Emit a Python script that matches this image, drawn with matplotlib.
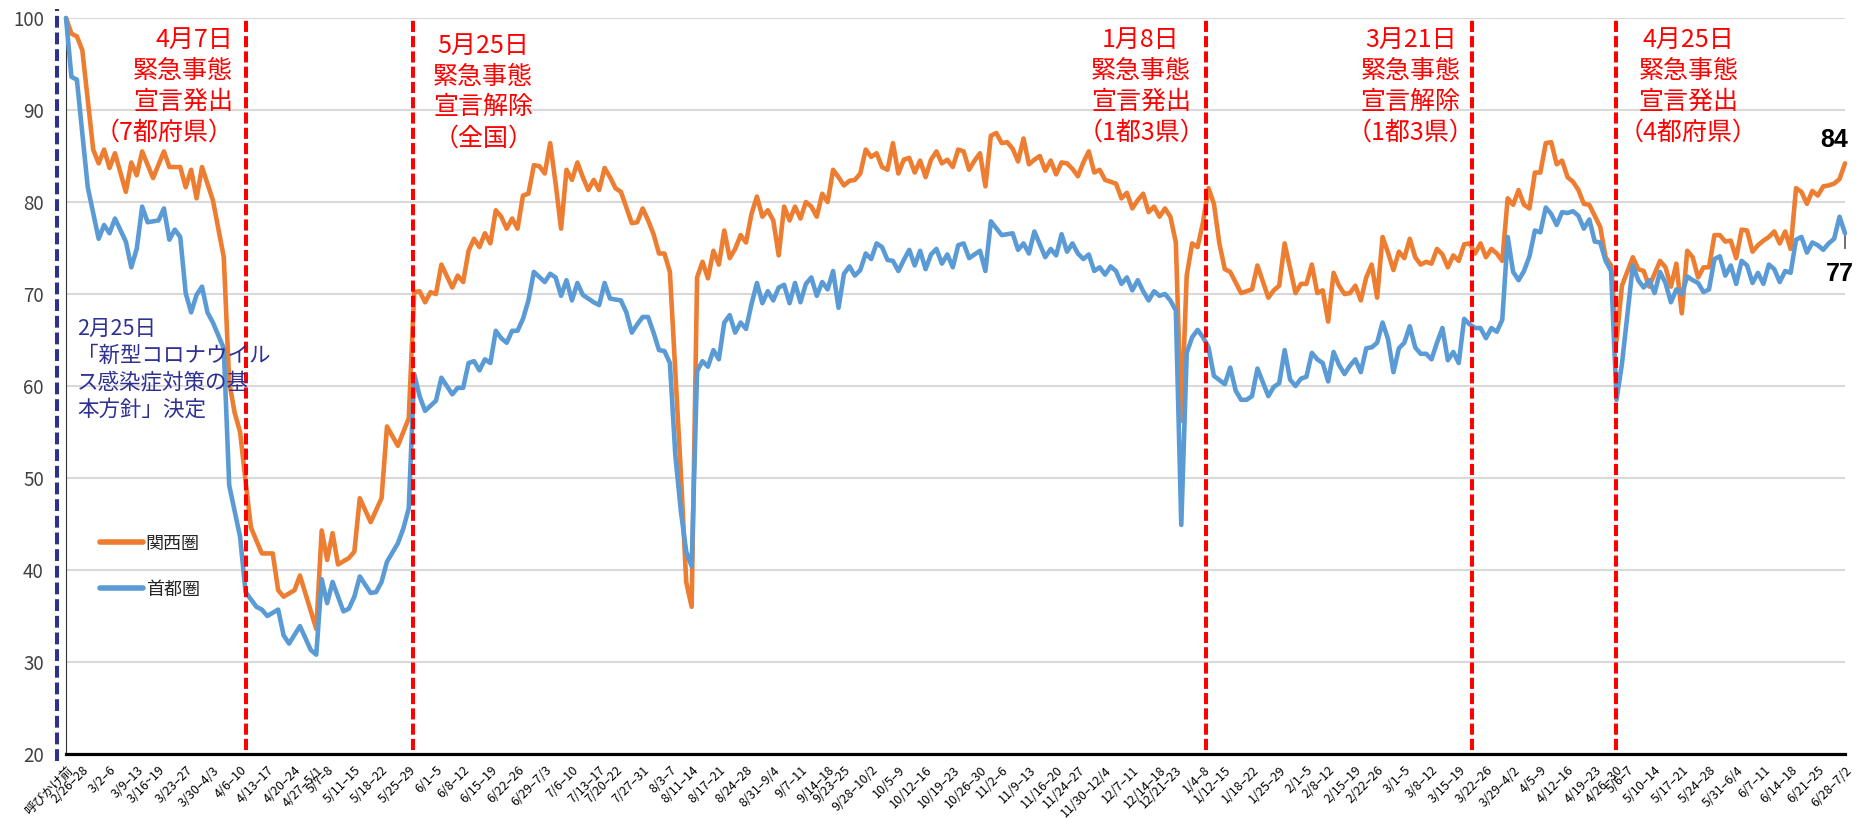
# Weekly mobility index: Kansai vs Tokyo area (pre-appeal = 100)
import matplotlib
matplotlib.use('Agg')
import matplotlib.pyplot as plt
import numpy as np

plt.rcParams['font.family'] = ['Noto Sans CJK JP', 'DejaVu Sans']
plt.rcParams['lines.scale_dashes'] = False

# x axis: one category per weekday, labelled once per week (label sits on last day of the week)
week_labels = ['呼びかけ前', '2/26–28', '3/2–6', '3/9–13', '3/16~19', '3/23–27', '3/30–4/3', '4/6–10',
               '4/13–17', '4/20–24', '4/27–5/1', '5/7–8', '5/11–15', '5/18–22', '5/25–29', '6/1–5',
               '6/8–12', '6/15–19', '6/22–26', '6/29–7/3', '7/6–10', '7/13–17', '7/20–22', '7/27–31',
               '8/3–7', '8/11–14', '8/17–21', '8/24–28', '8/31–9/4', '9/7–11', '9/14–18', '9/23–25',
               '9/28–10/2', '10/5–9', '10/12–16', '10/19–23', '10/26–30', '11/2–6', '11/9–13',
               '11/16–20', '11/24–27', '11/30–12/4', '12/7–11', '12/14–18', '12/21–23', '1/4–8',
               '1/12–15', '1/18–22', '1/25–29', '2/1–5', '2/8–12', '2/15–19', '2/22–26', '3/1–5',
               '3/8–12', '3/15–19', '3/22–26', '3/29–4/2', '4/5–9', '4/12–16', '4/19–23', '4/26–30',
               '5/6–7', '5/10–14', '5/17–21', '5/24–28', '5/31–6/4', '6/7–11', '6/14–18', '6/21–25',
               '6/28–7/2']
week_days = [1, 3, 5, 5, 4, 5, 5, 5, 5, 5,
             4, 2, 5, 5, 5, 5, 5, 5, 5, 5,
             5, 5, 3, 5, 5, 4, 5, 5, 5, 5,
             5, 3, 5, 5, 5, 5, 5, 4, 5, 5,
             4, 5, 5, 5, 3, 5, 4, 5, 5, 5,
             4, 5, 4, 5, 5, 5, 5, 5, 5, 5,
             5, 4, 2, 5, 5, 5, 5, 5, 5, 5, 5]

# 関西圏 (day index, value)
kansai_day = ([0, 1, 2, 3, 4, 5, 6, 7, 8, 9,
               11, 12, 13, 14, 16, 18, 19, 21, 22, 23, 24, 25, 27, 29, 30, 31, 32, 33, 34, 36,
               38, 39, 40, 42, 43, 46, 47, 48, 49, 50, 52, 53, 54, 56, 58, 59, 61, 63]
              + list(range(64, 70)) + list(range(71, 103)) + list(range(104, 112))
              + list(range(113, 215)) + [216, 218, 219] + list(range(221, 225))
              + list(range(226, 287)) + list(range(288, 328)))
kansai_val = [100, 98.3, 98.0, 96.5, 91.1, 85.7, 84.2, 85.7, 83.7, 85.3,
              81.1, 84.3, 82.9, 85.5, 82.6, 85.5, 83.8, 83.8, 81.6, 83.5,
              80.4, 83.8, 80.2, 74.0, 60.4, 57.1, 55.0, 49.7, 44.6, 41.8,
              41.8, 37.8, 37.1, 37.8, 39.4, 33.6, 44.3, 41.1, 44.0, 40.6,
              41.3, 42.0, 47.8, 45.2, 47.8, 55.6, 53.5, 56.5, 70.2, 70.3,
              69.1, 70.2, 70.0, 73.2, 70.7, 72.0, 71.3, 74.7, 76.0, 75.1,
              76.6, 75.5, 79.1, 78.4, 77.1, 78.2, 77.1, 80.7, 80.9, 84.0,
              83.9, 83.1, 86.4, 82.0, 77.1, 83.5, 82.4, 84.3, 82.7, 81.3,
              82.4, 81.3, 83.7, 82.7, 81.5, 81.1, 77.7, 77.8, 79.3, 78.0,
              76.5, 74.4, 74.4, 72.4, 50.7, 38.7, 36.0, 71.8, 73.5, 71.7,
              74.7, 73.2, 76.9, 73.9, 74.9, 76.4, 75.6, 78.7, 80.6, 78.4,
              79.1, 78.0, 74.2, 79.5, 78.0, 79.5, 78.2, 80.0, 79.5, 78.4,
              80.9, 80.0, 83.5, 82.7, 81.8, 82.3, 82.4, 83.1, 85.7, 84.9,
              85.3, 83.8, 83.5, 86.4, 83.1, 84.6, 84.8, 83.2, 84.5, 82.7,
              84.6, 85.5, 84.2, 84.6, 83.8, 85.7, 85.5, 83.5, 84.5, 85.3,
              81.7, 87.2, 87.5, 86.4, 86.5, 85.8, 84.4, 86.9, 84.1, 84.6,
              85.0, 83.4, 84.5, 83.0, 84.3, 84.2, 83.6, 82.8, 84.3, 85.5,
              83.2, 83.5, 82.4, 82.2, 82.0, 80.4, 81.0, 79.3, 80.2, 80.9,
              78.9, 79.5, 78.4, 79.3, 78.4, 75.6, 56.2, 72.0, 75.5, 75.1,
              77.8, 81.5, 79.8, 75.5, 72.7, 72.4,
              70.1, 70.5, 73.1, 69.6, 70.4, 70.9, 75.5,
              70.1, 71.1, 71.1, 73.2, 70.1, 70.4, 67.0, 72.3, 70.9, 70.0,
              70.1, 70.9, 69.3, 71.8, 73.2, 69.6, 76.2, 74.5, 72.6, 74.6,
              73.9, 76.0, 74.0, 73.2, 73.5, 73.3, 74.9, 74.3, 72.9, 74.2,
              73.6, 75.4, 75.5, 74.4, 75.5, 74.0, 74.9, 74.4, 73.6, 80.4,
              79.7, 81.3, 79.7, 79.3, 83.2, 83.2, 86.4, 86.5, 84.1, 84.5,
              82.7, 82.2, 81.3, 79.8, 79.7, 78.5, 77.3, 74.0, 73.1, 64.9,
              70.9, 74.0, 72.7, 72.5, 70.8, 72.2, 73.6, 72.9, 70.8, 73.3,
              67.9, 74.7, 74.0, 71.8, 72.9, 72.9, 76.4, 76.4, 75.7, 75.8,
              73.9, 77.0, 76.9, 74.6, 75.3, 75.8, 76.2, 76.8, 75.5, 76.8,
              74.9, 81.5, 81.1, 79.8, 81.2, 80.7, 81.7, 81.8, 82.0, 82.5, 84.2]

# 首都圏 (day index, value)
shuto_day = ([0, 1, 2, 4, 6, 7, 8, 9, 11, 12, 13, 14, 15, 17, 18, 19, 20, 21, 22, 23,
              24, 25, 26, 27, 29, 30, 31, 32, 33, 35, 36, 37, 39, 40, 41, 43, 45, 46, 47, 48,
              49, 51, 52, 53, 54, 56, 57, 58, 59, 61, 62, 63,
              64, 65, 66, 68, 69, 71, 72, 73]
             + list(range(74, 87)) + list(range(88, 96)) + list(range(97, 101))
             + list(range(102, 167)) + [168, 169, 170, 172] + list(range(174, 179))
             + list(range(180, 212)) + list(range(213, 220)) + list(range(221, 287))
             + list(range(288, 328)))
shuto_val = [100, 93.6, 93.3, 81.6, 76.0, 77.5, 76.6, 78.2, 75.7, 72.9,
             74.9, 79.5, 77.8, 78.0, 79.3, 75.9, 77.0, 76.2, 70.1, 68.0,
             69.9, 70.8, 68.0, 66.9, 64.1, 49.2, 46.4, 43.6, 37.6, 36.0,
             35.7, 35.0, 35.7, 32.9, 32.0, 33.9, 31.3, 30.8, 39.0, 36.4,
             38.7, 35.5, 35.8, 37.1, 39.3, 37.5, 37.6, 38.7, 40.9, 42.9,
             44.5, 46.7, 61.3, 58.9, 57.3, 58.4, 60.9, 59.1, 59.8, 59.8,
             62.5, 62.7, 61.7, 62.9, 62.5, 66.0, 65.2, 64.7, 66.0, 66.0,
             67.3, 69.3, 72.4, 71.3, 72.2, 71.8, 69.8, 71.5, 69.3, 71.2,
             69.9, 69.1, 68.8, 71.2, 69.5, 69.3, 68.0, 65.8, 66.7, 67.5,
             67.5, 65.8, 63.9, 63.8, 62.5, 52.5, 46.5, 42.0, 40.4, 61.6,
             62.7, 62.1, 63.9, 62.9, 66.9, 67.7, 65.8, 66.9, 66.2, 68.9,
             71.2, 69.0, 70.3, 69.3, 70.7, 71.0, 69.0, 71.2, 69.1, 71.1,
             71.8, 69.8, 71.3, 70.5, 72.5, 68.5, 72.2, 73.0, 72.0, 72.6,
             74.4, 73.8, 75.5, 75.1, 73.7, 73.6, 72.5, 73.7, 74.8, 73.1,
             74.7, 72.7, 74.3, 74.9, 73.3, 74.3, 72.9, 75.3, 75.5, 73.9,
             74.7, 72.5, 77.9, 76.4, 76.6, 74.8, 75.5, 74.4, 76.8, 74.0,
             74.9, 74.2, 76.5, 74.6, 75.5, 74.4, 73.8, 74.3, 72.5, 72.9,
             72.1, 73.0, 72.5, 71.1, 71.8, 70.4, 71.5, 70.3, 69.3, 70.3,
             69.8, 70.0, 69.3, 68.2, 44.9, 63.6, 65.3, 66.1, 65.3, 64.2,
             61.1, 60.2, 62.0, 59.5, 58.5, 58.5, 58.9, 61.9, 58.9, 59.9,
             60.3, 63.9, 60.7, 60.0, 60.8, 61.0, 63.6, 62.9, 62.5, 60.5,
             63.7, 62.3, 61.3, 62.2, 62.9, 61.5, 64.1, 64.2, 64.7, 66.9,
             65.1, 61.5, 64.1, 64.7, 66.5, 64.2, 63.5, 63.5, 62.9, 64.7,
             66.3, 62.8, 63.7, 62.5, 67.3, 66.7, 66.3, 66.3, 65.2, 66.3,
             65.9, 67.2, 76.2, 72.4, 71.5, 72.5, 74.1, 76.9, 76.7, 79.4,
             78.7, 77.5, 78.9, 78.8, 79.0, 78.5, 77.1, 78.1, 75.7, 75.6,
             73.6, 72.5, 58.5, 62.4, 73.1, 71.5, 70.7, 71.5, 70.1, 72.4,
             71.2, 69.1, 70.5, 70.0, 71.9, 71.5, 71.2, 70.2, 70.5, 73.8,
             74.1, 72.0, 73.1, 71.1, 73.6, 73.1, 71.2, 72.3, 71.1, 73.2,
             72.7, 71.3, 72.5, 72.3, 75.9, 76.2, 74.5, 75.6, 75.3, 74.8,
             75.5, 76.0, 78.4, 76.6]

# emergency declaration events (day position on the axis) and their notes
event_days = [33.0, 63.8, 209.6, 258.5, 284.9]
event_texts = ['4月7日\n緊急事態\n宣言発出\n（7都府県）',
               '5月25日\n緊急事態\n宣言解除\n（全国）',
               '1月8日\n緊急事態\n宣言発出\n（1都3県）',
               '3月21日\n緊急事態\n宣言解除\n（1都3県）',
               '4月25日\n緊急事態\n宣言発出\n（4都府県）']
note_x = [30.7, 76.7, 197.6, 247.2, 298.2]
note_y = [99.0, 98.4, 99.0, 99.0, 99.0]
note_ha = ['right', 'center', 'center', 'center', 'center']

policy_day = -1.65
policy_text = '2月25日\n「新型コロナウイル\nス感染症対策の基\n本方針」決定'

assert len(kansai_day) == len(kansai_val)
assert len(shuto_day) == len(shuto_val)

orange = '#ED7D31'
blue = '#5B9BD5'
navy = '#2E3192'

fig = plt.figure(figsize=(18.58, 8.18), dpi=100)
ax = fig.add_axes([66 / 1858, 1 - 754 / 818, 1779 / 1858, 736 / 818])

ax.plot(kansai_day, kansai_val, color=orange, lw=3.3, solid_joinstyle='round',
        solid_capstyle='round', label='関西圏', clip_on=False, zorder=3)
ax.plot(shuto_day, shuto_val, color=blue, lw=3.3, solid_joinstyle='round',
        solid_capstyle='round', label='首都圏', clip_on=False, zorder=4)

for d in event_days:
    ax.axvline(d, ymin=0.005, ymax=0.998, color='#FF0000', lw=2.9, dashes=(8, 3), zorder=5)
ax.axvline(policy_day, ymin=-0.01, ymax=1.012, color=navy, lw=2.9, dashes=(8.5, 3.5),
           clip_on=False, zorder=5)

for x, y, txt, ha in zip(note_x, note_y, event_texts, note_ha):
    ax.text(x, y, txt, ha=ha, va='top', multialignment=ha, color='#FF0000',
            fontsize=18, linespacing=1.24, zorder=6)

ax.text(2.0, 67.4, policy_text, ha='left', va='top', color=navy, fontsize=15.5,
        linespacing=1.28, zorder=6)

# end values
narrow = ['Liberation Sans Narrow', 'Liberation Sans']
ax.annotate(f'{kansai_val[-1]:.0f}', xy=(kansai_day[-1], kansai_val[-1]), xytext=(-8, 17),
            textcoords='offset points', ha='center', va='center', fontsize=18,
            fontweight='bold', color='black', family=narrow, annotation_clip=False)
ax.annotate('', xy=(shuto_day[-1], shuto_val[-1]), xytext=(0, -11),
            textcoords='offset points', annotation_clip=False,
            arrowprops=dict(arrowstyle='-', color='black', lw=0.8, shrinkA=0, shrinkB=1.5))
ax.annotate(f'{shuto_val[-1]:.0f}', xy=(shuto_day[-1], shuto_val[-1]), xytext=(-4, -29),
            textcoords='offset points', ha='center', va='center', fontsize=18,
            fontweight='bold', color='black', family=narrow, annotation_clip=False)

ax.set_xlim(0, 327)
ax.set_ylim(20, 100)
ax.set_yticks(range(20, 101, 10))
ax.yaxis.grid(True, color='#D9D9D9', lw=1.5)
ax.set_axisbelow(True)

ticks = np.cumsum(week_days) - 1
ax.set_xticks(ticks)
ax.set_xticklabels(week_labels, rotation=45, ha='right', va='top', rotation_mode='anchor')
ax.tick_params(axis='x', length=0, pad=7, labelsize=9, labelcolor='black')
ax.tick_params(axis='y', length=0, pad=16, labelsize=13.5, labelcolor='#404040')

for s in ['top', 'right']:
    ax.spines[s].set_visible(False)
ax.spines['left'].set_linewidth(0.8)
ax.spines['left'].set_color('#333333')
ax.spines['bottom'].set_linewidth(2.3)
ax.spines['bottom'].set_color('black')
ax.spines['bottom'].set_zorder(6)

leg = ax.legend(loc='upper left', bbox_to_anchor=(0.019, 0.298), frameon=False, fontsize=13,
                handlelength=2.4, handletextpad=0.15, labelspacing=1.55, borderaxespad=0,
                borderpad=0)
for line in leg.get_lines():
    line.set_linewidth(4)
for t in leg.get_texts():
    t.set_color('#262626')

fig.savefig('out.png', dpi=100)
